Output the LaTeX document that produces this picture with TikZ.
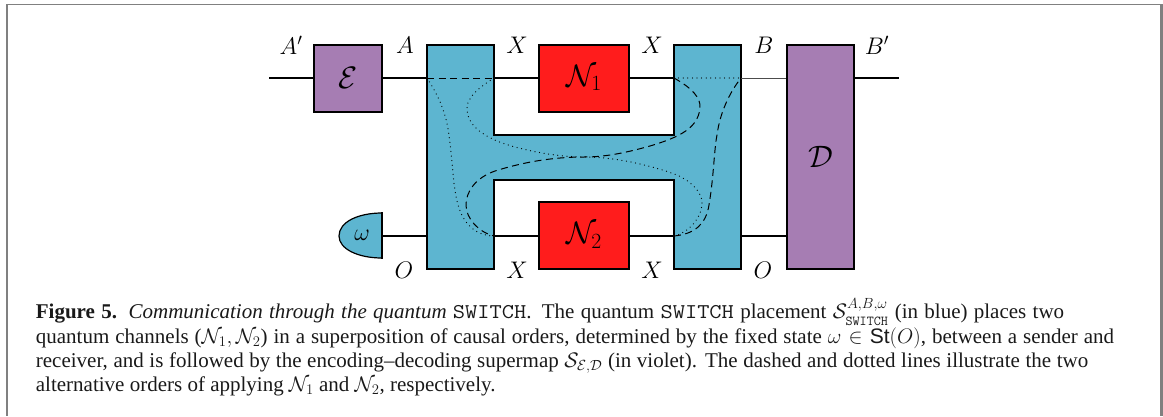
\RequirePackage{fix-cm}
\documentclass[tikz,border=0pt]{standalone}
\usepackage{fontspec}
\setmainfont{Liberation Serif}
\setsansfont{Liberation Sans}
\definecolor{vio}{HTML}{A67DB3}
\definecolor{blu}{HTML}{5DB5D0}
\definecolor{redb}{HTML}{FF1C1C}
\definecolor{framegray}{HTML}{808080}
\newcommand{\swtxt}{\scalebox{1.13}[1]{\texttt{SWITCH}}}
\newcommand{\swsub}{\raisebox{-2pt}{\fontsize{13.7}{14}\selectfont\texttt{SWITCH}}}
\newcommand{\swsup}{\raisebox{2pt}{$\scriptstyle A,B,\omega$}}
\tikzset{
  gatebox/.style={draw=black,line width=2pt,inner sep=0pt,text=black},
  wire/.style={line width=2pt,draw=black},
  thinwire/.style={line width=0.8pt,draw=black!70},
  lbl/.style={inner sep=0pt,font=\fontsize{24}{24}\selectfont},
  gatetxt/.style={font=\fontsize{31}{31}\selectfont},
  dashline/.style={line width=1pt,dash pattern=on 7pt off 4.5pt},
  dotline/.style={line width=1.25pt,line cap=round,dash pattern=on 0pt off 4.6pt},
  captext/.style={anchor=base west,inner sep=0pt,font=\fontsize{21}{24}\selectfont,text=black!90},
}
\begin{document}
\begin{tikzpicture}[x=1pt,y=-1pt]
\useasboundingbox (0,0) rectangle (1163,416);
% page frame
\fill[framegray] (6,4) rectangle (8,416);
\fill[framegray] (6,4) rectangle (1163,5.2);
\fill[framegray] (1159.5,4) rectangle (1163,416);
% ports
\coordinate (in) at (269,78);
\coordinate (out) at (899,78);
\coordinate (sAin) at (427,78);
\coordinate (sXtop) at (494,78);
\coordinate (sObot) at (427,236);
\coordinate (sXbot) at (494,236);
\coordinate (tXtop) at (674,78);
\coordinate (tBout) at (741,78);
\coordinate (tXbot) at (674,236);
\coordinate (tOout) at (741,236);
\coordinate (mid) at (584,157);
% blue H
\draw[fill=blu,line width=2pt,line join=miter]
  (427,45) -- (494,45) -- (494,135) -- (674,135) -- (674,45) -- (741,45)
  -- (741,269) -- (674,269) -- (674,180) -- (494,180) -- (494,269) -- (427,269) -- cycle;
% boxes
\node[gatebox,fill=vio,gatetxt,minimum width=68pt,minimum height=67pt] (E) at (348,78) {$\mathcal{E}$};
\node[gatebox,fill=vio,gatetxt,minimum width=67pt,minimum height=224pt] (D) at (820.5,157) {$\mathcal{D}$};
\node[gatebox,fill=redb,gatetxt,minimum width=90pt,minimum height=67pt] (N1) at (584,78) {$\mathcal{N}_1$};
\node[gatebox,fill=redb,gatetxt,minimum width=90pt,minimum height=67pt] (N2) at (584,235.5) {$\mathcal{N}_2$};
% state
\draw[fill=blu,line width=1.2pt] (382,213) .. controls (358,213) and (339,222) .. (339,236)
  .. controls (339,249) and (358,258) .. (382,258);
\draw[line width=2pt] (382,212) -- (382,259);
\node[lbl] (om) at (362,235.5) {$\omega$};
\coordinate (omout) at (382,236);
% wires
\draw[wire] (in) -- (E.west);
\draw[wire] (E.east) -- (sAin);
\draw[wire] (sXtop) -- (N1.west);
\draw[wire] (N1.east) -- (tXtop);
\draw[thinwire] (tBout) -- (D.west |- tBout);
\draw[wire] (D.east |- out) -- (out);
\draw[wire] (omout) -- (sObot);
\draw[wire] (sXbot) -- (N2.west |- sXbot);
\draw[wire] (N2.east |- tXbot) -- (tXbot);
\draw[wire] (tOout) -- (D.west |- tOout);
% dashed routes
\draw[dashline] (sAin) -- (sXtop);
\draw[dashline] (tXtop) .. controls (692,88) and (701,98) .. (700,108)
  .. controls (698,128) and (680,137) .. (650,146)
  .. controls (625,153) and (605,157) .. (mid)
  .. controls (560,157) and (530,160) .. (495,171)
  .. controls (475,178) and (466,192) .. (466,205)
  .. controls (466,218) and (478,232) .. (sXbot);
\draw[dashline] (tXbot) .. controls (695,234) and (706,224) .. (709,205)
  .. controls (714,175) and (714,150) .. (717,135)
  .. controls (720,112) and (730,92) .. (tBout);
% dotted routes
\draw[dotline] (tXtop) -- (tBout);
\draw[dotline] (sAin) .. controls (438,95) and (446,112) .. (449,135)
  .. controls (453,165) and (453,190) .. (459,208)
  .. controls (465,226) and (478,236) .. (sXbot);
\draw[dotline] (sXtop) .. controls (478,88) and (467,98) .. (467,108)
  .. controls (467,125) and (482,136) .. (505,144)
  .. controls (530,152) and (560,157) .. (mid)
  .. controls (615,157) and (650,165) .. (677,175)
  .. controls (692,182) and (702,192) .. (702,203)
  .. controls (702,218) and (688,233) .. (tXbot);
% labels
\node[lbl] (l1) at (291,45) {$A'$};
\node[lbl] (l2) at (405,45) {$A$};
\node[lbl] (l3) at (517,45) {$X$};
\node[lbl] (l4) at (652,45) {$X$};
\node[lbl] (l5) at (764,45) {$B$};
\node[lbl] (l6) at (877,45) {$B'$};
\node[lbl] (l7) at (404,270) {$O$};
\node[lbl] (l8) at (517,270) {$X$};
\node[lbl] (l9) at (652,270) {$X$};
\node[lbl] (l10) at (763,270) {$O$};
% caption
\node[captext] (c1) at (35.7,318.3) {\makebox[1028.3pt][s]{\textbf{Figure 5.}\hspace{0.55em}\textit{Communication through the quantum} \swtxt. The quantum \swtxt{} placement $\mathcal{S}^{\swsup}_{\swsub}$ (in blue) places two}};
\node[captext] (c2) at (35.7,343) {\makebox[1078.3pt][s]{quantum channels ($\mathcal{N}_1,\mathcal{N}_2$) in a superposition of causal orders, determined by the fixed state $\omega\in\textsf{St}(O)$, between a sender and}};
\node[captext] (c3) at (35.7,367) {\makebox[1052.3pt][s]{receiver, and is followed by the encoding--decoding supermap $\mathcal{S}_{\mathcal{E},\mathcal{D}}$ (in violet). The dashed and dotted lines illustrate the two}};
\node[captext] (c4) at (35.7,391) {alternative orders of applying $\mathcal{N}_1$ and $\mathcal{N}_2$, respectively.};
\end{tikzpicture}
\end{document}
